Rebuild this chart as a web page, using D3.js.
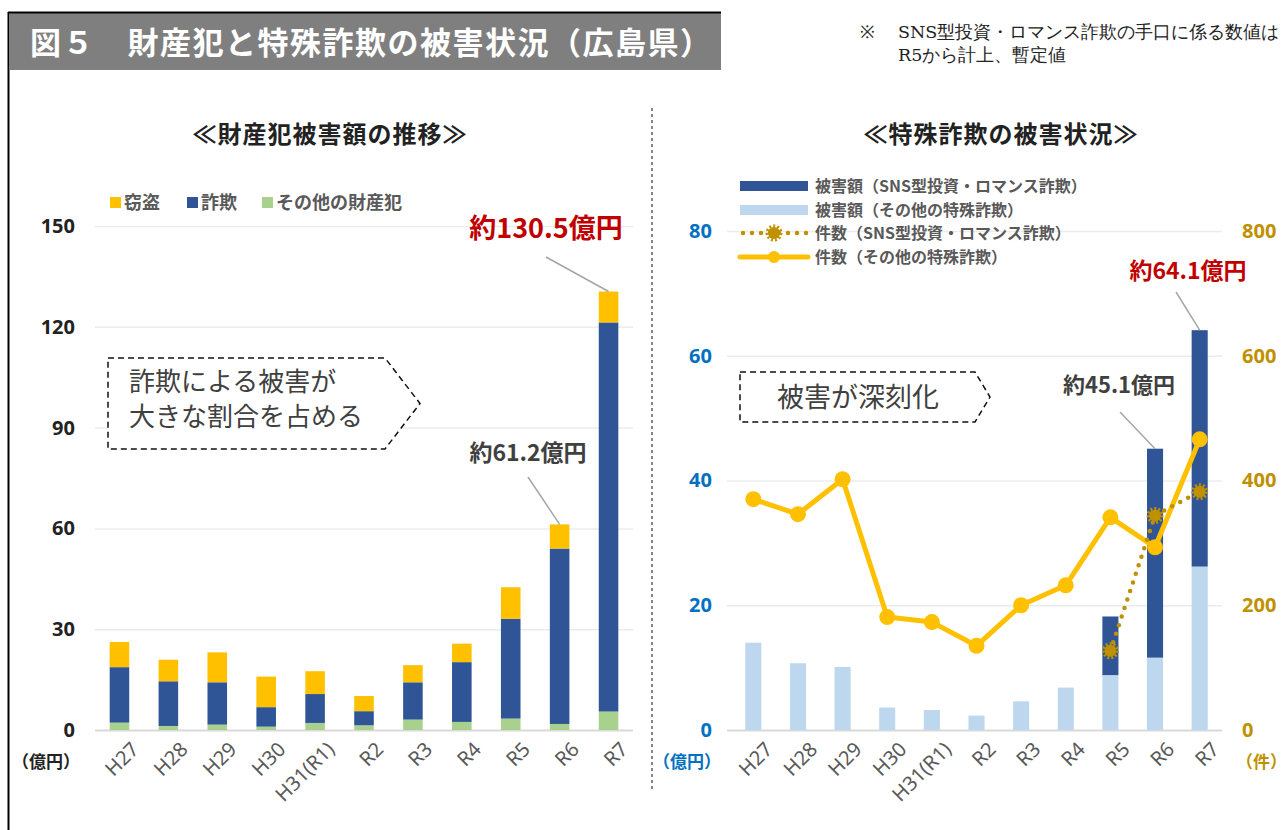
<!DOCTYPE html>
<meta charset="utf-8">
<script src="https://d3js.org/d3.v7.min.js"></script>
<style>
  body { margin: 0; background: #fff; }
  text { font-family: "Noto Sans CJK JP", "Noto Sans", sans-serif; }
</style>
<div id="chart"></div>
<script>
  // categories (fiscal years)
  var years = ["H27", "H28", "H29", "H30", "H31(R1)", "R2", "R3", "R4", "R5", "R6", "R7"];

  // left chart: property crime damage (億円)
  var theft = [7.5, 6.4, 8.9, 9.1, 6.8, 4.5, 5.1, 5.5, 9.4, 7.2, 9.2];
  var fraud = [16.5, 13.3, 12.6, 5.8, 8.6, 4.2, 11.1, 17.8, 29.7, 52.2, 115.8];
  var otherCrime = [2.2, 1.2, 1.6, 1.0, 2.1, 1.4, 3.1, 2.4, 3.4, 1.8, 5.5];
  var leftTicks = [0, 30, 60, 90, 120, 150];

  // right chart: special fraud damage (億円) and cases (件)
  var dmgOther = [14.0, 10.7, 10.1, 3.6, 3.2, 2.3, 4.6, 6.8, 8.8, 11.6, 26.2];
  var dmgSns = [0, 0, 0, 0, 0, 0, 0, 0, 9.4, 33.5, 37.9];
  var casesOther = [370, 346, 402, 181, 173, 135, 200, 232, 341, 293, 466];
  var casesSns = [null, null, null, null, null, null, null, null, 127, 344, 382];
  var rightTicksL = [0, 20, 40, 60, 80];
  var rightTicksR = [0, 200, 400, 600, 800];

  var cYellow = "#ffc000", cBlue = "#2f5597", cGreen = "#a9d18e",
      cLight = "#bdd7ee", cGold = "#bf9000", cRed = "#c00000",
      cText = "#595959", cGrid = "#ececec";

  var svg = d3.select("#chart").append("svg")
    .attr("width", 1286).attr("height", 830);

  // ---- frame and heading ----
  svg.append("line").attr("x1", 8.5).attr("x2", 8.5).attr("y1", 12).attr("y2", 830)
    .attr("stroke", "#000").attr("stroke-width", 2);
  svg.append("rect").attr("x", 9).attr("y", 12).attr("width", 712).attr("height", 58)
    .attr("fill", "#7f7f7f");
  svg.append("line").attr("x1", 8).attr("x2", 721).attr("y1", 12.5).attr("y2", 12.5)
    .attr("stroke", "#000").attr("stroke-width", 2);
  svg.append("text").attr("x", 30).attr("y", 54)
    .attr("fill", "#fff").attr("font-size", 31).attr("font-weight", "bold")
    .attr("letter-spacing", 1.5)
    .text("図５　財産犯と特殊詐欺の被害状況（広島県）");

  var note = svg.append("g").attr("font-size", 17.5).attr("fill", "#222")
    .style("font-family", "'DejaVu Serif', serif");
  note.append("text").attr("x", 860).attr("y", 38).style("font-family", "inherit").text("※");
  note.append("text").attr("x", 898).attr("y", 38).style("font-family", "inherit")
    .text("SNS型投資・ロマンス詐欺の手口に係る数値は");
  note.append("text").attr("x", 898).attr("y", 61).style("font-family", "inherit")
    .text("R5から計上、暫定値");

  // divider
  svg.append("line").attr("x1", 652).attr("x2", 652).attr("y1", 108).attr("y2", 792)
    .attr("stroke", "#444").attr("stroke-width", 1.3).attr("stroke-dasharray", "3,3");

  // ---- left chart ----
  var xL = d3.scaleBand().domain(years).range([95, 633]).paddingInner(0.6).paddingOuter(0.3);
  var yL = d3.scaleLinear().domain([0, 150]).range([730, 226]);

  svg.append("text").attr("x", 330).attr("y", 143).attr("text-anchor", "middle")
    .attr("font-size", 24).attr("font-weight", "bold").attr("fill", "#222")
    .attr("letter-spacing", 1)
    .text("≪財産犯被害額の推移≫");

  var gyL = svg.append("g").attr("transform", "translate(95,0)")
    .call(d3.axisLeft(yL).tickValues(leftTicks).tickSize(-538).tickPadding(20));
  gyL.select(".domain").remove();
  gyL.selectAll(".tick line").attr("stroke", function(d) { return d === 0 ? "#d9d9d9" : cGrid; })
    .attr("stroke-width", function(d) { return d === 0 ? 2 : 1.5; });
  gyL.selectAll(".tick text").attr("font-size", 20).attr("font-weight", "bold").attr("fill", "#222")
    .style("font-family", "'Noto Sans', sans-serif");

  var leftRows = years.map(function(y, i) {
    return { year: y, other: otherCrime[i], fraud: fraud[i], theft: theft[i] };
  });
  var stackL = d3.stack().keys(["other", "fraud", "theft"])(leftRows);
  var colL = { other: cGreen, fraud: cBlue, theft: cYellow };

  svg.append("g").selectAll("g").data(stackL).enter().append("g")
    .attr("fill", function(s) { return colL[s.key]; })
    .selectAll("rect").data(function(s) { return s; }).enter().append("rect")
    .attr("x", function(d) { return xL(d.data.year); })
    .attr("width", xL.bandwidth())
    .attr("y", function(d) { return yL(d[1]); })
    .attr("height", function(d) { return yL(d[0]) - yL(d[1]); });

  function xLabels(scale, yTop) {
    var g = svg.append("g").attr("transform", "translate(0," + yTop + ")")
      .call(d3.axisBottom(scale).tickSize(0).tickPadding(0));
    g.select(".domain").remove();
    g.selectAll(".tick text")
      .attr("font-size", 20).attr("fill", cText)
      .attr("text-anchor", "end")
      .attr("y", 0)
      .attr("dy", "0.75em")
      .attr("transform", "translate(10,0) rotate(-45)")
      .style("font-family", "'Noto Sans', sans-serif");
  }
  xLabels(xL, 740);

  svg.append("text").attr("x", 12).attr("y", 768).attr("font-size", 17).attr("font-weight", "bold")
    .attr("fill", "#222").text("（億円）");

  // left legend
  var legL = [["窃盗", cYellow, 110], ["詐欺", cBlue, 187], ["その他の財産犯", cGreen, 262]];
  legL.forEach(function(l) {
    svg.append("rect").attr("x", l[2]).attr("y", 197).attr("width", 11).attr("height", 11).attr("fill", l[1]);
    svg.append("text").attr("x", l[2] + 14).attr("y", 209).attr("font-size", 18)
      .attr("font-weight", "bold").attr("fill", cText).text(l[0]);
  });

  // annotations left
  var r7L = leftRows[10].other + leftRows[10].fraud + leftRows[10].theft;
  var r6L = leftRows[9].other + leftRows[9].fraud + leftRows[9].theft;
  svg.append("text").attr("x", 546).attr("y", 238).attr("text-anchor", "middle")
    .attr("font-size", 27).attr("font-weight", "bold").attr("fill", cRed).text("約130.5億円");
  svg.append("line").attr("x1", 546).attr("y1", 257)
    .attr("x2", xL("R7") + xL.bandwidth() / 2).attr("y2", yL(r7L))
    .attr("stroke", "#a6a6a6").attr("stroke-width", 1.5);
  svg.append("text").attr("x", 528).attr("y", 461).attr("text-anchor", "middle")
    .attr("font-size", 23).attr("font-weight", "bold").attr("fill", "#404040").text("約61.2億円");
  svg.append("line").attr("x1", 528).attr("y1", 477)
    .attr("x2", xL("R6") + xL.bandwidth() / 2).attr("y2", yL(r6L))
    .attr("stroke", "#a6a6a6").attr("stroke-width", 1.5);

  // callout boxes
  function callout(x0, y0, x1, tip, y1) {
    var ym = (y0 + y1) / 2;
    svg.append("path")
      .attr("d", "M" + x0 + "," + y0 + "H" + x1 + "L" + tip + "," + ym + "L" + x1 + "," + y1 + "H" + x0 + "Z")
      .attr("fill", "#fff").attr("stroke", "#111").attr("stroke-width", 1.5)
      .attr("stroke-dasharray", "6,4");
  }
  callout(108, 358, 385, 420, 449);
  svg.append("text").attr("x", 129).attr("y", 391).attr("font-size", 26).attr("fill", "#404040")
    .text("詐欺による被害が");
  svg.append("text").attr("x", 129).attr("y", 426).attr("font-size", 26).attr("fill", "#404040")
    .text("大きな割合を占める");

  // ---- right chart ----
  var xR = d3.scaleBand().domain(years).range([731, 1222]).paddingInner(0.64).paddingOuter(0.32);
  var yR = d3.scaleLinear().domain([0, 80]).range([730, 231]);
  var yC = d3.scaleLinear().domain([0, 800]).range([730, 231]);

  svg.append("text").attr("x", 1001).attr("y", 143).attr("text-anchor", "middle")
    .attr("font-size", 24).attr("font-weight", "bold").attr("fill", "#222")
    .attr("letter-spacing", 1)
    .text("≪特殊詐欺の被害状況≫");

  var gyR = svg.append("g").attr("transform", "translate(727,0)")
    .call(d3.axisLeft(yR).tickValues(rightTicksL).tickSize(-495).tickPadding(15));
  gyR.select(".domain").remove();
  gyR.selectAll(".tick line").attr("stroke", function(d) { return d === 0 ? "#d9d9d9" : cGrid; })
    .attr("stroke-width", function(d) { return d === 0 ? 2 : 1.5; });
  gyR.selectAll(".tick text").attr("font-size", 20).attr("font-weight", "bold").attr("fill", "#0070c0")
    .style("font-family", "'Noto Sans', sans-serif");

  var gyC = svg.append("g").attr("transform", "translate(1222,0)")
    .call(d3.axisRight(yC).tickValues(rightTicksR).tickSize(0).tickPadding(20));
  gyC.select(".domain").remove();
  gyC.selectAll(".tick text").attr("font-size", 20).attr("font-weight", "bold").attr("fill", cGold)
    .style("font-family", "'Noto Sans', sans-serif");

  var rightRows = years.map(function(y, i) {
    return { year: y, other: dmgOther[i], sns: dmgSns[i] };
  });
  var stackR = d3.stack().keys(["other", "sns"])(rightRows);
  var colR = { other: cLight, sns: cBlue };
  svg.append("g").selectAll("g").data(stackR).enter().append("g")
    .attr("fill", function(s) { return colR[s.key]; })
    .selectAll("rect").data(function(s) { return s; }).enter().append("rect")
    .attr("x", function(d) { return xR(d.data.year); })
    .attr("width", xR.bandwidth())
    .attr("y", function(d) { return yR(d[1]); })
    .attr("height", function(d) { return yR(d[0]) - yR(d[1]); });

  var cx = function(i) { return xR(years[i]) + xR.bandwidth() / 2; };

  // cases: other special fraud
  var lineOther = d3.line().x(function(d, i) { return cx(i); }).y(function(d) { return yC(d); });
  svg.append("path").datum(casesOther).attr("d", lineOther)
    .attr("fill", "none").attr("stroke", cYellow).attr("stroke-width", 5).attr("stroke-linejoin", "round");
  svg.append("g").selectAll("circle").data(casesOther).enter().append("circle")
    .attr("cx", function(d, i) { return cx(i); }).attr("cy", function(d) { return yC(d); })
    .attr("r", 8).attr("fill", cYellow);

  // cases: SNS investment / romance fraud
  var lineSns = d3.line().defined(function(d) { return d !== null; })
    .x(function(d, i) { return cx(i); }).y(function(d) { return yC(d); });
  svg.append("path").datum(casesSns).attr("d", lineSns)
    .attr("fill", "none").attr("stroke", cGold).attr("stroke-width", 4.5)
    .attr("stroke-linecap", "round").attr("stroke-dasharray", "0,9");
  function gear(g, x, y) {
    g.append("circle").attr("cx", x).attr("cy", y).attr("r", 6).attr("fill", cGold);
    g.append("circle").attr("cx", x).attr("cy", y).attr("r", 7)
      .attr("fill", "none").attr("stroke", cGold).attr("stroke-width", 3).attr("stroke-dasharray", "2,2");
  }
  var gSns = svg.append("g");
  casesSns.forEach(function(d, i) { if (d !== null) gear(gSns, cx(i), yC(d)); });

  xLabels(xR, 740);
  svg.append("text").attr("x", 653).attr("y", 768).attr("font-size", 17).attr("font-weight", "bold")
    .attr("fill", "#0070c0").text("（億円）");
  svg.append("text").attr("x", 1236).attr("y", 768).attr("font-size", 17).attr("font-weight", "bold")
    .attr("fill", cGold).text("（件）");

  // right legend
  var legR = svg.append("g").attr("font-size", 16).attr("font-weight", "bold").attr("fill", cText);
  legR.append("rect").attr("x", 740).attr("y", 181).attr("width", 68).attr("height", 10).attr("fill", cBlue);
  legR.append("text").attr("x", 815).attr("y", 192).text("被害額（SNS型投資・ロマンス詐欺）");
  legR.append("rect").attr("x", 740).attr("y", 205).attr("width", 68).attr("height", 10).attr("fill", cLight);
  legR.append("text").attr("x", 815).attr("y", 216).text("被害額（その他の特殊詐欺）");
  legR.append("line").attr("x1", 743).attr("x2", 808).attr("y1", 233).attr("y2", 233)
    .attr("stroke", cGold).attr("stroke-width", 4.5).attr("stroke-linecap", "round").attr("stroke-dasharray", "0,9");
  gear(legR, 774, 233);
  legR.append("text").attr("x", 815).attr("y", 239).text("件数（SNS型投資・ロマンス詐欺）");
  legR.append("line").attr("x1", 740).attr("x2", 808).attr("y1", 257).attr("y2", 257)
    .attr("stroke", cYellow).attr("stroke-width", 5).attr("stroke-linecap", "round");
  legR.append("circle").attr("cx", 774).attr("cy", 257).attr("r", 6).attr("fill", cYellow);
  legR.append("text").attr("x", 815).attr("y", 263).text("件数（その他の特殊詐欺）");

  // annotations right
  svg.append("text").attr("x", 1188).attr("y", 279).attr("text-anchor", "middle")
    .attr("font-size", 23).attr("font-weight", "bold").attr("fill", cRed).text("約64.1億円");
  svg.append("line").attr("x1", 1176).attr("y1", 292)
    .attr("x2", cx(10)).attr("y2", yR(dmgOther[10] + dmgSns[10]))
    .attr("stroke", "#a6a6a6").attr("stroke-width", 1.5);
  svg.append("text").attr("x", 1119).attr("y", 393).attr("text-anchor", "middle")
    .attr("font-size", 22).attr("font-weight", "bold").attr("fill", "#404040").text("約45.1億円");
  svg.append("line").attr("x1", 1120).attr("y1", 412)
    .attr("x2", cx(9)).attr("y2", yR(dmgOther[9] + dmgSns[9]))
    .attr("stroke", "#a6a6a6").attr("stroke-width", 1.5);

  callout(740, 372, 975, 990, 422);
  svg.append("text").attr("x", 858).attr("y", 407).attr("text-anchor", "middle")
    .attr("font-size", 27).attr("fill", "#404040").text("被害が深刻化");
</script>
